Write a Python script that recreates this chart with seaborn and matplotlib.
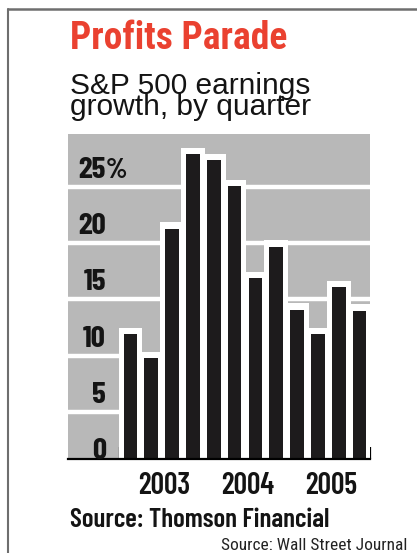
import matplotlib
matplotlib.use("Agg")
import matplotlib.pyplot as plt
from matplotlib.lines import Line2D
import seaborn as sns
import pandas as pd

# ---- data -------------------------------------------------------------
quarters = ["2003Q1", "2003Q2", "2003Q3", "2003Q4",
            "2004Q1", "2004Q2", "2004Q3", "2004Q4",
            "2005Q1", "2005Q2", "2005Q3", "2005Q4"]
growth = [11.1, 9.0, 20.5, 27.1, 26.6, 24.3, 16.1, 18.9, 13.3, 11.1, 15.3, 13.2]
years = ["2003", "2004", "2005"]
ytick_values = [0, 5, 10, 15, 20, 25]
ytick_labels = ["0", "5", "10", "15", "20", "25"]

title = "Profits Parade"
subtitle_lines = ["S&P 500 earnings", "growth, by quarter"]
source_text = "Source: Thomson Financial"
credit_text = "Source: Wall Street Journal"

# ---- styling ----------------------------------------------------------
sns.set_style("white")
plt.rcParams["font.family"] = ["Liberation Sans", "DejaVu Sans"]
COND = ["Barlow Condensed", "Roboto Condensed", "Liberation Sans", "DejaVu Sans"]
NARROW = ["Roboto Condensed", "Liberation Sans", "DejaVu Sans"]
WIDE = ["Liberation Sans", "DejaVu Sans"]

BAR = "#1d1b1c"
STIPPLE = "#b8b8b8"
RED = "#ea4130"
FRAME = "#6e6e6e"
INK = "#141414"

W, H, DPI = 417, 553, 100
fig = plt.figure(figsize=(W / DPI, H / DPI), dpi=DPI)
fig.patch.set_facecolor("white")


def fx(px):
    return px / W


def fy(py):
    return 1 - py / H


# axes box in pixels
L, R, T, B = 68, 370, 134, 459
ax = fig.add_axes([fx(L), fy(B), (R - L) / W, (B - T) / H])
ax.set_facecolor(STIPPLE)

df = pd.DataFrame({"quarter": quarters, "growth": growth})
halo = df.assign(growth=df["growth"] + 0.55)

# white halo round each bar, then the black bars
sns.barplot(data=halo, x="quarter", y="growth", color="white", width=1.14,
            saturation=1, errorbar=None, linewidth=0, ax=ax, zorder=2)
sns.barplot(data=df, x="quarter", y="growth", color=BAR, width=0.66,
            saturation=1, errorbar=None, linewidth=0, ax=ax, zorder=3)

ax.set_xlim(-3.0, 11.5)
ax.set_ylim(0, (B - T) / 11.24)

# white band separators in the screen
for v in ytick_values[1:]:
    ax.axhline(v - 0.8, color="white", lw=3.2, zorder=1)

for s in ["left", "right", "top"]:
    ax.spines[s].set_visible(False)
ax.spines["bottom"].set_color("black")
ax.spines["bottom"].set_linewidth(1.6)
ax.spines["bottom"].set_zorder(5)

# year boundaries as inward minor ticks, year labels as major ticks
ax.set_xticks([-0.5 + 4 * i for i in range(len(years) + 1)], minor=True)
ax.set_xticks([1.5 + 4 * i + 0.12 for i in range(len(years))])
ax.set_xticklabels(years, fontsize=21.5, fontweight="semibold", family=COND,
                   color=INK)
ax.tick_params(axis="x", which="minor", direction="in", length=8.5,
               width=1.6, color="black", bottom=True)
ax.tick_params(axis="x", which="major", length=0, pad=9)
ax.set_xlabel("")
ax.set_ylabel("")
ax.set_yticks([])

# value labels inside the screen
ytr = ax.get_yaxis_transform()
xlab = (106 - L) / (R - L)
for v, lab in zip(ytick_values, ytick_labels):
    ax.text(xlab, v, lab, transform=ytr, ha="right", va="baseline",
            fontsize=22.5, fontweight="bold", family=COND, color=INK,
            zorder=6)
ax.text(xlab, ytick_values[-1], "%", transform=ytr, ha="left", va="baseline",
        fontsize=20, fontweight="bold", family=COND, color=INK, zorder=6)

# ---- header and footer text ----------------------------------------------
fig.text(fx(70), fy(49), title, ha="left", va="baseline", fontsize=27,
         fontweight="bold", family=NARROW, color=RED)
# va="baseline" on multi-line text aligns the last line's baseline
fig.text(fx(70), fy(115), "\n".join(subtitle_lines), ha="left",
         va="baseline", fontsize=21.5, family=WIDE, color=INK,
         linespacing=0.70)
fig.text(fx(70), fy(527), source_text, ha="left", va="baseline",
         fontsize=19.5, fontweight="semibold", family=COND, color=INK)
fig.text(fx(407), fy(550), credit_text, ha="right", va="baseline",
         fontsize=12.5, family=NARROW, color="#222222")

# frame of the clipping
fig.add_artist(Line2D([fx(7.5), fx(7.5)], [fy(9), 0], color=FRAME, lw=1.5))
fig.add_artist(Line2D([fx(7.5), 1], [fy(9), fy(9)], color=FRAME, lw=1.8))

fig.savefig("out.png", dpi=DPI, facecolor="white")
